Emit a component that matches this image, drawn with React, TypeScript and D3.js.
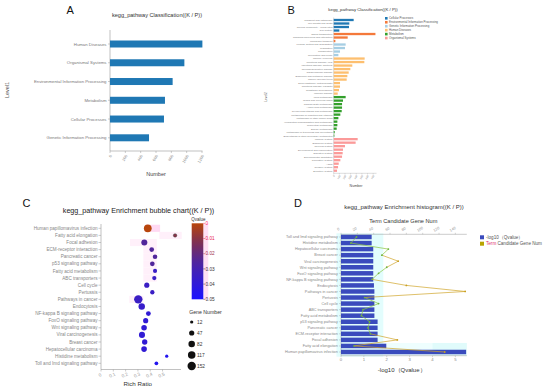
import React from 'react';
import * as d3 from 'd3';

const FONT = "'Liberation Sans', Arial, Helvetica, sans-serif";

// ---------- Panel A data ----------
const level1Cats = [
  'Human Diseases',
  'Organismal Systems',
  'Environmental Information Processing',
  'Metabolism',
  'Cellular Processes',
  'Genetic Information Processing',
];
const level1Values = [1205, 970, 817, 717, 704, 509];
const level1Ticks = [0, 200, 400, 600, 800, 1000, 1200];

// ---------- Panel B data ----------
const level2Groups = [
  'Cellular Processes',
  'Environmental Information Processing',
  'Genetic Information Processing',
  'Human Diseases',
  'Metabolism',
  'Organismal Systems',
];
const groupColors = ['#1f78b4', '#f4793b', '#a6cee3', '#fdbf6f', '#33a02c', '#fb9a99'];
const level2Cats = [
  'Transport and catabolism',
  'Cell growth and death',
  'Cellular community - eukaryotes',
  'Cell motility',
  'Signal transduction',
  'Signaling molecules and interaction',
  'Membrane transport',
  'Folding, sorting and degradation',
  'Translation',
  'Transcription',
  'Replication and repair',
  'Cancer: overview',
  'Infectious disease: viral',
  'Infectious disease: bacterial',
  'Neurodegenerative disease',
  'Cardiovascular disease',
  'Endocrine and metabolic disease',
  'Cancer: specific types',
  'Drug resistance: antineoplastic',
  'Infectious disease: parasitic',
  'Substance dependence',
  'Immune disease',
  'Lipid metabolism',
  'Global and overview maps',
  'Carbohydrate metabolism',
  'Amino acid metabolism',
  'Glycan biosynthesis and metabolism',
  'Metabolism of cofactors and vitamins',
  'Metabolism of other amino acids',
  'Xenobiotics biodegradation and metabolism',
  'Nucleotide metabolism',
  'Energy metabolism',
  'Metabolism of terpenoids and polyketides',
  'Biosynthesis of other secondary metabolites',
  'Immune system',
  'Endocrine system',
  'Nervous system',
  'Development and regeneration',
  'Digestive system',
  'Environmental adaptation',
  'Circulatory system',
  'Aging',
  'Sensory system',
  'Excretory system',
];
const level2Group = [
  0, 0, 0, 0,
  1, 1, 1,
  2, 2, 2, 2,
  3, 3, 3, 3, 3, 3, 3, 3, 3, 3, 3,
  4, 4, 4, 4, 4, 4, 4, 4, 4, 4, 4, 4,
  5, 5, 5, 5, 5, 5, 5, 5, 5, 5,
];
const level2Values = [
  354, 277, 271, 100,
  740, 248, 30,
  212, 200, 112, 83,
  549, 543, 330, 295, 266, 242, 230, 112, 112, 94, 71,
  212, 165, 148, 148, 142, 118, 83, 65, 65, 53, 18, 12,
  425, 389, 200, 165, 159, 148, 118, 89, 77, 59,
];
const level2Ticks = [0, 100, 200, 300, 400, 500, 600, 700];

// ---------- Panels C & D data (order as in bubble chart, top to bottom) ----------
const pathways = [
  'Human papillomavirus infection',
  'Fatty acid elongation',
  'Focal adhesion',
  'ECM-receptor interaction',
  'Pancreatic cancer',
  'p53 signaling pathway',
  'Fatty acid metabolism',
  'ABC transporters',
  'Cell cycle',
  'Pertussis',
  'Pathways in cancer',
  'Endocytosis',
  'NF-kappa B signaling pathway',
  'FoxO signaling pathway',
  'Wnt signaling pathway',
  'Viral carcinogenesis',
  'Breast cancer',
  'Hepatocellular carcinoma',
  'Histidine metabolism',
  'Toll and Imd signaling pathway',
];
const richRatio = [0.38, 0.602, 0.352, 0.412, 0.439, 0.417, 0.439, 0.433, 0.372, 0.417, 0.303, 0.331, 0.385, 0.363, 0.35, 0.333, 0.355, 0.35, 0.534, 0.45];
const negLog10Q = [5.47, 1.98, 1.6, 1.6, 1.6, 1.6, 1.46, 1.46, 1.46, 1.46, 1.46, 1.44, 1.41, 1.41, 1.41, 1.41, 1.41, 1.41, 1.34, 1.34];
const geneNum = [127, 16, 69, 36, 33, 35, 25, 27, 46, 29, 152, 80, 38, 46, 56, 70, 50, 58, 12, 19];
const richTicks = [0, 0.1, 0.2, 0.3, 0.4, 0.5];
const qTicks = [0, 0.01, 0.02, 0.03, 0.04, 0.05];
const qTickColors = ['#ff2a6a', '#e8204f', '#a0304a', '#333', '#333', '#333'];
const geneLegend = [12, 47, 82, 117, 152];
// highlighted spans behind bubbles (row index, rich ratio from/to, strength)
const cHighlights = [
  { row: 0, from: 0.358, to: 0.48, strong: true },
  { row: 1, from: 0.474, to: 0.656, strong: false },
  { row: 2, from: 0.236, to: 0.453, strong: false },
  { row: 3, from: 0.344, to: 0.453, strong: false },
  { row: 4, from: 0.344, to: 0.453, strong: false },
  { row: 5, from: 0.344, to: 0.453, strong: false },
  { row: 6, from: 0.344, to: 0.453, strong: false },
  { row: 7, from: 0.344, to: 0.453, strong: false },
  { row: 10, from: 0.23, to: 0.344, strong: false },
];
const dBottomTicks = [0, 1, 2, 3, 4, 5];
const dTopTicks = [0, 20, 40, 60, 80, 100, 120, 140];

function PanelA() {
  const x = d3.scaleLinear().domain([0, 1200]).range([110, 202]);
  const y = d3.scalePoint<string>().domain(level1Cats).range([44, 137.8]);
  const bh = 7;
  return (
    <g>
      <text x={66.5} y={14} fontSize={11} fill="#111">A</text>
      <text x={157} y={17} fontSize={5.6} fill="#333" textAnchor="middle">kegg_pathway Classification((K / P))</text>
      <text transform="translate(9,90) rotate(-90)" fontSize={5.5} fill="#555" textAnchor="middle">Level1</text>
      <line x1={110} x2={110} y1={30} y2={151} stroke="#999" strokeWidth={0.6} />
      <line x1={110} x2={202.5} y1={151} y2={151} stroke="#999" strokeWidth={0.6} />
      {level1Cats.map((c, i) => (
        <g key={c}>
          <rect x={x(0)} y={(y(c) as number) - bh / 2} width={x(level1Values[i]) - x(0)} height={bh} fill="#1f78b4" />
          <line x1={108} x2={110} y1={y(c)} y2={y(c)} stroke="#999" strokeWidth={0.5} />
          <text x={106.5} y={y(c)} dy="0.35em" fontSize={4.3} fill="#777" textAnchor="end">{c}</text>
        </g>
      ))}
      {level1Ticks.map((t) => (
        <g key={t}>
          <line x1={x(t)} x2={x(t)} y1={151} y2={153} stroke="#999" strokeWidth={0.5} />
          <text transform={`translate(${x(t) + 1},155) rotate(-60)`} fontSize={4} fill="#888" textAnchor="end" dy="0.35em">{t}</text>
        </g>
      ))}
      <text x={156} y={176} fontSize={5.5} fill="#444" textAnchor="middle">Number</text>
    </g>
  );
}

function PanelB() {
  const x = d3.scaleLinear().domain([0, 750]).range([333.7, 376]);
  const y = d3.scalePoint<string>().domain(level2Cats).range([20, 170.7]);
  const bh = 2.3;
  return (
    <g>
      <text x={287.5} y={14} fontSize={11} fill="#111">B</text>
      <text x={363} y={10.5} fontSize={4.3} fill="#333" textAnchor="middle">kegg_pathway Classification((K / P))</text>
      <text transform="translate(266.5,97) rotate(-90)" fontSize={3.2} fill="#555" textAnchor="middle">Level2</text>
      <line x1={x(0)} x2={x(0)} y1={17.5} y2={173.3} stroke="#aaa" strokeWidth={0.4} />
      <line x1={x(0)} x2={376.5} y1={173.3} y2={173.3} stroke="#aaa" strokeWidth={0.4} />
      {level2Cats.map((c, i) => (
        <g key={c}>
          <rect x={x(0)} y={(y(c) as number) - bh / 2} width={x(level2Values[i]) - x(0)} height={bh} fill={groupColors[level2Group[i]]} />
          <text x={332.4} y={y(c)} dy="0.35em" fontSize={2.5} fill="#777" textAnchor="end">{c}</text>
        </g>
      ))}
      {level2Ticks.map((t) => (
        <g key={t}>
          <line x1={x(t)} x2={x(t)} y1={173.3} y2={174.5} stroke="#aaa" strokeWidth={0.4} />
          <text transform={`translate(${x(t) + 0.5},175.5) rotate(-60)`} fontSize={2.4} fill="#888" textAnchor="end" dy="0.35em">{t}</text>
        </g>
      ))}
      <text x={356} y={187} fontSize={3.6} fill="#444" textAnchor="middle">Number</text>
      {level2Groups.map((g, i) => (
        <g key={g}>
          <rect x={385} y={17 + i * 3.95} width={2.6} height={2.6} fill={groupColors[i]} />
          <text x={389} y={18.3 + i * 3.95} dy="0.35em" fontSize={2.9} fill="#555">{g}</text>
        </g>
      ))}
    </g>
  );
}

const qColor = d3
  .scaleLinear<string>()
  .domain([0, 0.012, 0.027, 0.05])
  .range(['#b8460c', '#803050', '#4a24a6', '#1a12ff'])
  .interpolate(d3.interpolateRgb);

function PanelC() {
  const x = d3.scaleLinear().domain([0, 0.65]).range([101, 181]);
  const y = d3.scalePoint<string>().domain(pathways).range([228.3, 363.3]);
  const step = y.step();
  const r = d3.scaleSqrt().domain([0, 152]).range([0.6, 4.2]);
  const cbTop = 223.3;
  const cbBot = 299.3;
  const qy = d3.scaleLinear().domain([0, 0.05]).range([cbTop, cbBot]);
  const gradStops = d3.range(0, 1.0001, 0.1);
  return (
    <g>
      <defs>
        <linearGradient id="qgrad" x1="0" y1="0" x2="0" y2="1">
          {gradStops.map((s) => (
            <stop key={s} offset={s} stopColor={qColor(s * 0.05)} />
          ))}
        </linearGradient>
      </defs>
      <text x={22.5} y={206.7} fontSize={11} fill="#111">C</text>
      <text x={138.5} y={212.5} fontSize={7.2} fill="#222" textAnchor="middle">kegg_pathway Enrichment bubble chart((K / P))</text>
      {cHighlights.map((h, i) => (
        <rect key={i} x={x(h.from)} y={(y(pathways[h.row]) as number) - step / 2} width={x(h.to) - x(h.from)} height={step}
          fill={h.strong ? '#ffd9f3' : '#fff0fa'} />
      ))}
      <line x1={101} x2={101} y1={224} y2={369.5} stroke="#999" strokeWidth={0.6} />
      <line x1={101} x2={181} y1={369.5} y2={369.5} stroke="#999" strokeWidth={0.6} />
      {pathways.map((p) => (
        <g key={p}>
          <line x1={98.5} x2={101} y1={y(p)} y2={y(p)} stroke="#999" strokeWidth={0.5} />
          <text x={97.5} y={y(p)} dy="0.35em" fontSize={4.6} fill="#888" textAnchor="end">{p}</text>
        </g>
      ))}
      {richTicks.map((t) => (
        <g key={t}>
          <line x1={x(t)} x2={x(t)} y1={369.5} y2={371.5} stroke="#999" strokeWidth={0.5} />
          <text transform={`translate(${x(t) - 1},375) rotate(-25)`} fontSize={4.6} fill="#999" textAnchor="middle" dy="0.35em">{t}</text>
        </g>
      ))}
      <text x={137.7} y={386} fontSize={6.2} fill="#333" textAnchor="middle">Rich Ratio</text>
      {pathways.map((p, i) => (
        <circle key={p} cx={x(richRatio[i])} cy={y(p)} r={r(geneNum[i])}
          fill={qColor(Math.pow(10, -negLog10Q[i]))} stroke={i === 1 ? '#333' : 'none'} strokeWidth={0.4} />
      ))}
      {/* color bar */}
      <text x={198.5} y={220.5} fontSize={4.5} fill="#333" textAnchor="middle">Qvalue</text>
      <rect x={203.3} y={cbTop} width={5} height={cbBot - cbTop} fill="#ffe0f4" />
      <rect x={191.7} y={cbTop} width={11.6} height={cbBot - cbTop} fill="url(#qgrad)" />
      {qTicks.map((t, i) => (
        <g key={t}>
          <line x1={203.3} x2={205} y1={qy(t)} y2={qy(t)} stroke={qTickColors[i]} strokeWidth={0.5} />
          <text x={205.5} y={qy(t)} dy="0.35em" fontSize={4.7} fill={qTickColors[i]}>{t}</text>
        </g>
      ))}
      {/* gene number legend */}
      <text x={205.5} y={314} fontSize={5.2} fill="#333" textAnchor="middle">Gene Number</text>
      {geneLegend.map((g, i) => (
        <g key={g}>
          <circle cx={191.7} cy={322 + i * 11} r={r(g)} fill="#111" />
          <text x={197} y={322 + i * 11} dy="0.35em" fontSize={4.8} fill="#333">{g}</text>
        </g>
      ))}
    </g>
  );
}

function PanelD() {
  const rows = pathways.slice().reverse();
  const vals = negLog10Q.slice().reverse();
  const genes = geneNum.slice().reverse();
  const xb = d3.scaleLinear().domain([0, 5.5]).range([341, 466.8]);
  const xt = d3.scaleLinear().domain([0, 154]).range([341, 466.8]);
  const y = d3.scalePoint<string>().domain(rows).range([237, 352]);
  const bh = 4.5;
  const axTop = 234.3;
  const axBot = 355.7;
  const pts = rows.map((p, i) => [xt(genes[i]), y(p) as number]);
  return (
    <g>
      <text x={294} y={207.3} fontSize={11} fill="#111">D</text>
      <text x={404} y={208.5} fontSize={6} fill="#333" textAnchor="middle">kegg_pathway Enrichment histogram((K / P))</text>
      <text x={403.3} y={223} fontSize={5.6} fill="#333" textAnchor="middle">Term Candidate Gene Num</text>
      {/* light cyan background */}
      <rect x={xb(-0.2)} y={axTop - 1} width={xb(1.85) - xb(-0.2)} height={axBot - axTop + 2} fill="#e3fdfd" />
      <rect x={xb(1.85)} y={(y(rows[18]) as number) - 3} width={xb(5.5) - xb(1.85)} height={axBot - (y(rows[18]) as number) + 3} fill="#eefefe" />
      <rect x={xb(4)} y={(y(rows[18]) as number) - 3} width={xb(5.5) - xb(4)} height={axBot - (y(rows[18]) as number) + 3} fill="#e0fbfb" />
      {/* axes */}
      <line x1={341} x2={341} y1={axTop} y2={axBot} stroke="#999" strokeWidth={0.5} />
      <line x1={341} x2={466.8} y1={axBot} y2={axBot} stroke="#999" strokeWidth={0.5} />
      <line x1={341} x2={466.8} y1={axTop} y2={axTop} stroke="#999" strokeWidth={0.5} />
      {dTopTicks.map((t) => (
        <g key={t}>
          <line x1={xt(t)} x2={xt(t)} y1={axTop} y2={axTop - 1.5} stroke="#999" strokeWidth={0.4} />
          <text transform={`translate(${xt(t) - 2},${axTop - 4}) rotate(-30)`} fontSize={3.8} fill="#999" textAnchor="middle">{t}</text>
        </g>
      ))}
      {dBottomTicks.map((t) => (
        <g key={t}>
          <line x1={xb(t)} x2={xb(t)} y1={axBot} y2={axBot + 1.5} stroke="#999" strokeWidth={0.4} />
          <text x={xb(t)} y={axBot + 5} fontSize={4.2} fill="#888" textAnchor="middle">{t}</text>
        </g>
      ))}
      <text x={401.7} y={371.5} fontSize={6} fill="#333" textAnchor="middle">-log10（Qvalue）</text>
      {rows.map((p, i) => (
        <g key={p}>
          <rect x={xb(0)} y={(y(p) as number) - bh / 2} width={xb(vals[i]) - xb(0)} height={bh} fill="#3a4bbd" />
          <line x1={339} x2={341} y1={y(p)} y2={y(p)} stroke="#999" strokeWidth={0.4} />
          <text x={337.8} y={y(p)} dy="0.35em" fontSize={3.8} fill="#888" textAnchor="end">{p}</text>
        </g>
      ))}
      {/* gene number line */}
      {pts.slice(1).map((pt, i) => {
        const a = pts[i];
        const hi = Math.max(genes[i], genes[i + 1]) >= 60;
        return <line key={i} x1={a[0]} y1={a[1]} x2={pt[0]} y2={pt[1]} stroke={hi ? '#d0a52a' : '#8cc63f'} strokeWidth={0.7} />;
      })}
      {pts.map((pt, i) => (
        <circle key={i} cx={pt[0]} cy={pt[1]} r={0.9} fill={genes[i] >= 60 ? '#c9a020' : '#6db33f'} />
      ))}
      {/* legend */}
      <rect x={480} y={235.3} width={4} height={4} fill="#3a4bbd" />
      <text x={486} y={237.3} dy="0.35em" fontSize={4.6} fill="#555">-log10（Qvalue）</text>
      <rect x={480} y={241.7} width={4} height={4} fill="#b8a400" />
      <text x={486} y={243.7} dy="0.35em" fontSize={4.6} fill="#555"><tspan fill="#e0306a">Term</tspan> Candidate Gene Num</text>
    </g>
  );
}

export default function App() {
  return (
    <svg width={550} height={389} viewBox="0 0 550 389" style={{ position: 'absolute', left: 0, top: 0, background: '#fff' }} fontFamily={FONT}>
      <rect width={550} height={389} fill="#fff" />
      <PanelA />
      <PanelB />
      <PanelC />
      <PanelD />
    </svg>
  );
}
